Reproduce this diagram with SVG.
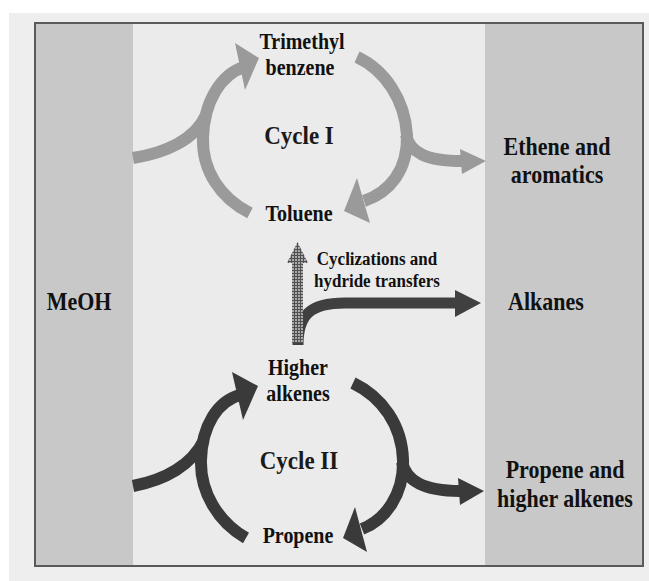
<svg xmlns="http://www.w3.org/2000/svg" width="649" height="581" viewBox="0 0 649 581">
  <style>
    .lbl { font-family: "Liberation Serif", "Times New Roman", serif; font-weight: bold; fill: #111; text-anchor: middle; }
    .s20 { font-size: 20px; }
    .s22 { font-size: 22px; }
    .s17 { font-size: 17px; }
    .cyc { font-family: "Liberation Serif", "Times New Roman", serif; font-weight: bold; font-size: 23px; fill: #1a1a1a; text-anchor: middle; }
    .light { fill: none; stroke: #9a9a9a; stroke-width: 12; }
    .dark { fill: none; stroke: #3a3a3a; stroke-width: 12; }
    .headL { fill: #9a9a9a; }
    .headD { fill: #3a3a3a; }
  </style>
  <defs>
    <pattern id="hatch" width="3" height="3" patternUnits="userSpaceOnUse">
      <rect width="3" height="3" fill="#aaaaaa"/>
      <path d="M0 0.5 H3 M0.5 0 V3" stroke="#505050" stroke-width="1"/>
    </pattern>
  </defs>

  <!-- background -->
  <rect x="0" y="0" width="649" height="581" fill="#ffffff"/>
  <rect x="9" y="13" width="640" height="568" fill="#eeeeee"/>
  <g id="panels">
    <rect x="35" y="23" width="98" height="543" fill="#c8c8c8"/>
    <rect x="133" y="23" width="352" height="543" fill="#ebebeb"/>
    <rect x="485" y="23" width="158" height="543" fill="#c8c8c8"/>
    <rect x="35" y="23" width="608" height="543" fill="none" stroke="#5a5a5a" stroke-width="2"/>
  </g>

  <g id="connectors">
    <!-- Cycle I (light) -->
    <path class="light" d="M133 158 C165 153, 195 140, 206 115"/>
    <path class="light" d="M250 213 C220 198, 202 170, 203 138 C204 100, 222 74, 244 67"/>
    <polygon class="headL" points="235,43 259,58 245,90"/>
    <path class="light" d="M357 57 C385 70, 405 100, 407 135 C408 170, 390 192, 364 201"/>
    <polygon class="headL" points="357,178 344,211 370,223"/>
    <path class="light" d="M406 135 C410 152, 425 161, 462 161"/>
    <polygon class="headL" points="460,149 486,161 462,174"/>

    <!-- Alkanes branch -->
    <path fill="none" stroke="#404040" stroke-width="11" d="M298 345 C298 315, 310 303, 345 303 L458 303"/>
    <polygon fill="#404040" points="455,290 481,303 455,317"/>
    <!-- hatched vertical arrow -->
    <path fill="url(#hatch)" d="M292 343 L292 263 L287 263 L297.5 242 L308 263 L303 263 L303 343 Z"/>

    <!-- Cycle II (dark) -->
    <path class="dark" d="M133 486 C165 480, 192 465, 204 440"/>
    <path class="dark" d="M246 538 C218 522, 200 492, 201 460 C202 425, 218 401, 240 395"/>
    <polygon class="headD" points="232,372 258,386 243,420"/>
    <path class="dark" d="M353 383 C382 397, 402 425, 403 460 C404 495, 385 520, 362 529"/>
    <polygon class="headD" points="355,507 343,538 367,552"/>
    <path class="dark" d="M402 462 C406 480, 422 491, 460 491"/>
    <polygon class="headD" points="458,478 484,491 460,505"/>
  </g>

  <g id="node-meoh"><text class="lbl s22" transform="translate(79,310) scale(1,1.12)">MeOH</text></g>
  <g id="node-trimethylbenzene">
    <text class="lbl s20" transform="translate(302,49) scale(1,1.12)">Trimethyl</text>
    <text class="lbl s20" transform="translate(300,75) scale(1,1.12)">benzene</text>
  </g>
  <g id="node-cycle1"><text class="cyc" transform="translate(299,144) scale(1,1.12)">Cycle I</text></g>
  <g id="node-toluene"><text class="lbl s20" transform="translate(299,221) scale(1,1.12)">Toluene</text></g>
  <g id="node-ethene">
    <text class="lbl s22" transform="translate(557,155) scale(1,1.12)">Ethene and</text>
    <text class="lbl s22" transform="translate(557,183) scale(1,1.12)">aromatics</text>
  </g>
  <g id="node-cyclizations">
    <text class="lbl s17" transform="translate(377,265) scale(1,1.12)">Cyclizations and</text>
    <text class="lbl s17" transform="translate(377,287) scale(1,1.12)">hydride transfers</text>
  </g>
  <g id="node-alkanes"><text class="lbl s22" transform="translate(546,310) scale(1,1.12)">Alkanes</text></g>
  <g id="node-higheralkenes">
    <text class="lbl s20" transform="translate(298,375) scale(1,1.12)">Higher</text>
    <text class="lbl s20" transform="translate(298,401) scale(1,1.12)">alkenes</text>
  </g>
  <g id="node-cycle2"><text class="cyc" transform="translate(299,469) scale(1,1.12)">Cycle II</text></g>
  <g id="node-propene"><text class="lbl s20" transform="translate(298,543) scale(1,1.12)">Propene</text></g>
  <g id="node-propene-higher">
    <text class="lbl s22" transform="translate(565,478) scale(1,1.12)">Propene and</text>
    <text class="lbl s22" transform="translate(565,507) scale(1,1.12)">higher alkenes</text>
  </g>
</svg>
